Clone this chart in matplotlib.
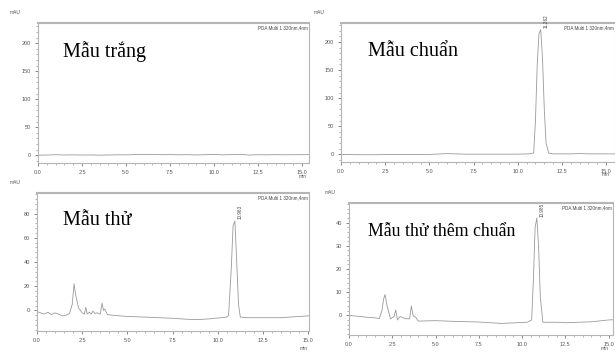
import matplotlib
matplotlib.use("Agg")
import matplotlib.pyplot as plt
from matplotlib.ticker import MultipleLocator

plt.rcParams['font.family'] = ['Liberation Sans', 'DejaVu Sans']

W, H = 615, 352

# Mẫu trắng
t1 = [0.0, 0.5, 1.0, 1.5, 2.0, 2.5, 3.0, 3.5, 4.0, 4.5, 5.0, 5.5, 6.0, 6.5, 7.0,
      7.5, 8.0, 8.5, 9.0, 9.5, 10.0, 10.5, 11.0, 11.5, 12.0, 12.5, 13.0, 13.5, 14.0,
      14.5, 15.0, 15.4]
y1 = [0.0, 0.2, 0.8, 0.3, 0.5, 0.2, 0.4, 0.0, 0.3, 0.6, 0.5, 1.0, 1.5, 1.2, 0.8,
      1.0, 0.6, 0.9, 0.4, 0.8, 1.2, 0.6, 1.0, 1.5, 0.2, 0.8, 0.6, 0.9, 0.7,
      0.8, 0.9, 0.9]

# Mẫu chuẩn
t2 = [0.0, 1.0, 2.0, 3.0, 4.0, 5.0, 6.0, 6.5, 7.0, 8.0, 9.0, 10.0, 10.6, 10.9,
      11.0, 11.1, 11.2, 11.3, 11.4, 11.5, 11.6, 11.75, 12.0, 13.0, 13.5, 14.0, 15.0, 15.5]
y2 = [-0.5, -1.0, -1.0, -0.5, -0.5, -0.5, 1.0, 0.5, 0.0, 0.0, 0.0, 0.0, 0.5, 2.0,
      60.0, 160.0, 215.0, 222.0, 170.0, 80.0, 20.0, 2.0, 0.5, 0.5, 1.0, 0.5, 0.5, 0.5]

# Mẫu thử
t3 = [0.0, 0.2, 0.4, 0.6, 0.8, 1.0, 1.2, 1.4, 1.6, 1.8, 1.95, 2.05, 2.15, 2.3, 2.5,
      2.62, 2.7, 2.78, 2.9, 3.0, 3.1, 3.2, 3.35, 3.5, 3.6, 3.68, 3.75, 3.9, 4.2, 5.0,
      6.0, 7.5, 8.5, 9.0, 9.5, 10.2, 10.5, 10.6, 10.75, 10.85, 10.95, 11.05, 11.15,
      11.25, 11.6, 12.5, 13.5, 14.5, 15.05]
y3 = [-1.0, -2.0, -3.0, -1.5, -3.5, -2.0, -3.0, -4.5, -4.0, -2.5, 5.0, 22.0, 12.0, 2.0, -2.0,
      -3.0, 2.5, -3.0, -1.5, -3.0, -0.5, -2.5, -2.0, -3.0, 6.0, 0.0, 1.0, -3.5, -4.0, -5.0,
      -5.5, -6.5, -7.5, -7.5, -7.0, -6.0, -5.5, -4.0, 35.0, 70.0, 74.0, 40.0, 5.0,
      -5.5, -6.0, -6.0, -6.0, -5.0, -4.5]

# Mẫu thử thêm chuẩn
t4 = [0.0, 0.5, 1.0, 1.5, 1.75, 1.9, 2.0, 2.08, 2.2, 2.4, 2.6, 2.7, 2.8, 2.95, 3.1,
      3.3, 3.5, 3.6, 3.7, 3.75, 3.85, 4.0, 5.0, 6.0, 7.5, 8.8, 10.3, 10.55, 10.65,
      10.75, 10.85, 10.95, 11.05, 11.2, 12.0, 12.5, 14.0, 15.0, 15.25]
y4 = [0.0, -0.4, -0.8, -1.1, -1.4, 2.0, 7.0, 9.0, 4.0, -1.5, -0.5, 2.3, -2.0, -0.5, -1.0,
      -1.5, -1.5, 4.0, 0.0, -0.5, -0.8, -2.5, -2.3, -2.6, -2.9, -3.5, -3.0, -2.0, 15.0,
      38.0, 42.0, 30.0, 8.0, -3.0, -3.0, -3.2, -2.8, -2.0, -1.9]

panels = [
    dict(t=t1, y=y1, box=(38, 23, 309, 163), xlim=(0, 15.4), ylim=(-14, 236), step=50,
         title="Mẫu trắng", tpos=(63, 57), tsize=14.5, peak=None,
         mau=(15, 13), minpos=(303, 176)),
    dict(t=t2, y=y2, box=(341, 23, 615, 162), xlim=(0, 15.5), ylim=(-14, 234), step=50,
         title="Mẫu chuẩn", tpos=(368, 56), tsize=14.5, peak=(11.3, 222, "11.262"),
         mau=(319, 12), minpos=(606, 175)),
    dict(t=t3, y=y3, box=(37, 193, 309, 331), xlim=(0, 15.05), ylim=(-17, 97), step=20,
         title="Mẫu thử", tpos=(63, 225), tsize=14.5, peak=(10.95, 74, "10.963"),
         mau=(15, 182), minpos=(304, 348)),
    dict(t=t4, y=y4, box=(349, 203, 613, 335), xlim=(0, 15.25), ylim=(-8.5, 48.5), step=10,
         title="Mẫu thử thêm chuẩn", tpos=(368, 236), tsize=12.8, peak=(10.85, 42, "10.985"),
         mau=(330, 192), minpos=(605, 348)),
]

fig = plt.figure(figsize=(W / 100, H / 100), dpi=100)

for p in panels:
    x0, ytop, x1, ybot = p['box']
    ax = fig.add_axes([x0 / W, 1 - ybot / H, (x1 - x0) / W, (ybot - ytop) / H])
    ax.plot(p['t'], p['y'], color='#9a9a9a', lw=0.6)
    ax.set_xlim(*p['xlim'])
    ax.set_ylim(*p['ylim'])
    ax.xaxis.set_major_locator(MultipleLocator(2.5))
    ax.xaxis.set_minor_locator(MultipleLocator(0.5))
    ax.yaxis.set_major_locator(MultipleLocator(p['step']))
    ax.yaxis.set_minor_locator(MultipleLocator(p['step'] / 5))
    ax.xaxis.set_major_formatter(lambda v, pos: f"{v:.1f}")
    ax.tick_params(labelsize=4, colors='#555555', length=2, width=0.5, pad=3)
    ax.tick_params(which='minor', length=1.2, width=0.4, colors='#777777')
    for s in ax.spines.values():
        s.set_color('#b5b5b5')
        s.set_linewidth(0.8)
    ax.spines['top'].set_linewidth(1.5)
    ax.text(0.995, 0.985, "PDA Multi 1 320nm,4nm", transform=ax.transAxes,
            ha='right', va='top', fontsize=3.3, color='#444444')
    if p['peak']:
        px, py, lab = p['peak']
        ax.annotate(lab, (px, py), xytext=(2, 1), textcoords='offset points',
                    rotation=90, fontsize=3.3, color='#444444', ha='left', va='bottom')
    fig.text(p['tpos'][0] / W, 1 - p['tpos'][1] / H, p['title'],
             family='Liberation Serif', fontsize=p['tsize'], va='baseline', ha='left')
    fig.text(p['mau'][0] / W, 1 - p['mau'][1] / H, "mAU", fontsize=3.5,
             color='#555555', ha='center', va='center')
    fig.text(p['minpos'][0] / W, 1 - p['minpos'][1] / H, "min", fontsize=3.5,
             color='#555555', ha='center', va='center')

fig.savefig("out.png", dpi=100)
